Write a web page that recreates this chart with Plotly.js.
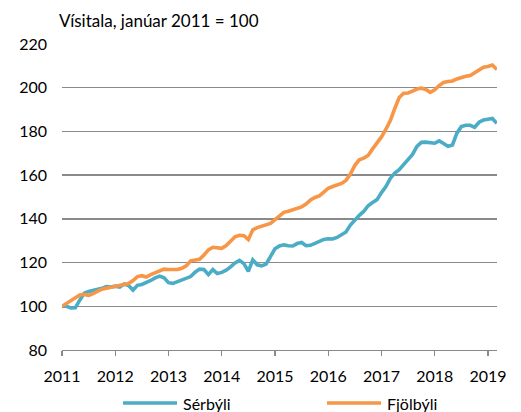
<!DOCTYPE html>
<html>
<head>
<meta charset="utf-8">
<script src="https://cdn.plot.ly/plotly-3.0.1.min.js"></script>
<style>
  html, body { margin: 0; padding: 0; background: #fff; }
  #chart { width: 521px; height: 412px; }
</style>
</head>
<body>
<div id="chart"></div>
<script>
// Monthly index, January 2011 = 100 (Jan 2011 – Mar 2019)
var startYear = 2011;
var serbyli = [
  100, 100, 99.2, 99.3, 102.8, 106, 106.8, 107.2, 107.9, 108.2, 109, 108.8,
  109.2, 108.8, 110.2, 109.5, 107.4, 109.6, 110, 110.8, 111.8, 113, 113.8, 113,
  110.8, 110.5, 111.2, 112, 113, 113.6, 115.6, 117, 116.8, 114.5, 116.8, 115,
  115.5, 116.5, 118, 119.8, 121, 119.5, 116, 121.2, 119, 118.5, 119.3, 123,
  126.3, 127.6, 128.1, 127.7, 127.6, 128.7, 129.2, 127.7, 127.9, 128.8, 129.6, 130.6,
  130.9, 130.8, 131.5, 133, 134, 137.2, 139.5, 141.6, 143.4, 146, 147.5, 148.8,
  152, 154.8, 158.5, 161, 162.5, 164.8, 166.6, 169.5, 173.2, 175, 175.1, 174.7,
  174.6, 175.7, 174.6, 173.2, 173.8, 179.2, 182.2, 182.8, 182.8, 181.9, 184.2, 185.2,
  185.6, 185.9, 183.7
];
var fjolbyli = [
  100, 101.3, 102.5, 103.8, 105.2, 105.4, 105, 105.8, 107, 107.8, 108.3, 108.8,
  109.2, 109.5, 110.2, 110.4, 111.8, 113.6, 114, 113.4, 114.5, 115.2, 116.3, 117,
  116.8, 116.6, 116.8, 117.4, 118.5, 120.8, 121.3, 121.5, 123.5, 125.8, 127, 126.6,
  126.5, 127.8, 130, 131.8, 132.5, 132.3, 130.5, 135, 136, 136.5, 137, 137.9,
  139.6, 141.5, 143, 143.5, 144.2, 145, 145.5, 146.8, 148.6, 149.8, 150.5, 152.2,
  154, 154.8, 155.3, 156.2, 157.6, 160.5, 164.5, 167, 167.8, 169, 172, 174.5,
  177.5, 181, 185, 190.5, 195.5, 197.5, 197.6, 198.4, 199.4, 199.8, 199.2, 197.9,
  199, 201, 202.4, 202.8, 203.1, 204, 204.8, 205.2, 205.6, 207, 208.4, 209.4,
  209.7, 210.4, 208.3
];
var seriesNames = ['Sérbýli', 'Fjölbýli'];
var seriesColors = ['#4BACC6', '#F79646'];
var yTicks = [80, 100, 120, 140, 160, 180, 200, 220];
var xTickYears = [2011, 2012, 2013, 2014, 2015, 2016, 2017, 2018, 2019];
var titleText = 'Vísitala, janúar 2011 = 100';

// month positions as decimal years
var months = serbyli.map(function (_, i) { return startYear + i / 12; });

var FONT = 'Lato, "Open Sans", sans-serif';
var GRID = '#8a8a8a';

var traces = [serbyli, fjolbyli].map(function (vals, k) {
  return {
    type: 'scatter', mode: 'lines',
    x: months, y: vals, name: seriesNames[k],
    line: { color: seriesColors[k], width: 3.6 },
    hoverinfo: 'skip', showlegend: false
  };
});

// Legend drawn below the plot (paper coordinates)
var plotL = 62, plotW = 435, plotB = 350, plotH = 306;
function px2x(p) { return (p - plotL) / plotW; }
var legY = (plotB - 403) / plotH;
var legendStarts = [123, 327];
var shapes = [], annotations = [];
seriesNames.forEach(function (nm, k) {
  var s = legendStarts[k];
  shapes.push({
    type: 'line', xref: 'paper', yref: 'paper',
    x0: px2x(s), x1: px2x(s + 54), y0: legY, y1: legY,
    line: { color: seriesColors[k], width: 3.6 }
  });
  annotations.push({
    xref: 'paper', yref: 'paper', x: px2x(s + 58), y: legY,
    xanchor: 'left', yanchor: 'middle', showarrow: false,
    text: nm, font: { family: FONT, size: 16, color: '#000' }
  });
});

var layout = {
  width: 521, height: 412,
  margin: { l: 62, r: 24, t: 44, b: 62 },
  paper_bgcolor: '#fff', plot_bgcolor: '#fff',
  font: { family: FONT, size: 16, color: '#000' },
  title: {
    text: titleText, xref: 'container', yref: 'container',
    x: 59 / 521, xanchor: 'left', y: 1 - 21 / 412, yanchor: 'middle',
    font: { family: FONT, size: 17, color: '#000' }
  },
  xaxis: {
    type: 'linear', range: [2011, 2019.17],
    tickvals: xTickYears, ticktext: xTickYears.map(String),
    ticks: 'outside', ticklen: 5, tickwidth: 1.3, tickcolor: GRID,
    showline: true, linecolor: GRID, linewidth: 1.3,
    showgrid: false, zeroline: false,
    ticklabelstandoff: 6,
    tickfont: { family: FONT, size: 16, color: '#000' },
    fixedrange: true
  },
  yaxis: {
    range: [80, 220], tickvals: yTicks, ticktext: yTicks.map(String),
    showgrid: true, gridcolor: GRID, gridwidth: 1.3,
    showline: false, zeroline: false, ticks: '',
    ticklabelstandoff: 14,
    tickfont: { family: FONT, size: 16, color: '#000' },
    fixedrange: true
  },
  showlegend: false,
  shapes: shapes,
  annotations: annotations
};

Plotly.newPlot('chart', traces, layout, { staticPlot: true, displayModeBar: false });
</script>
</body>
</html>
